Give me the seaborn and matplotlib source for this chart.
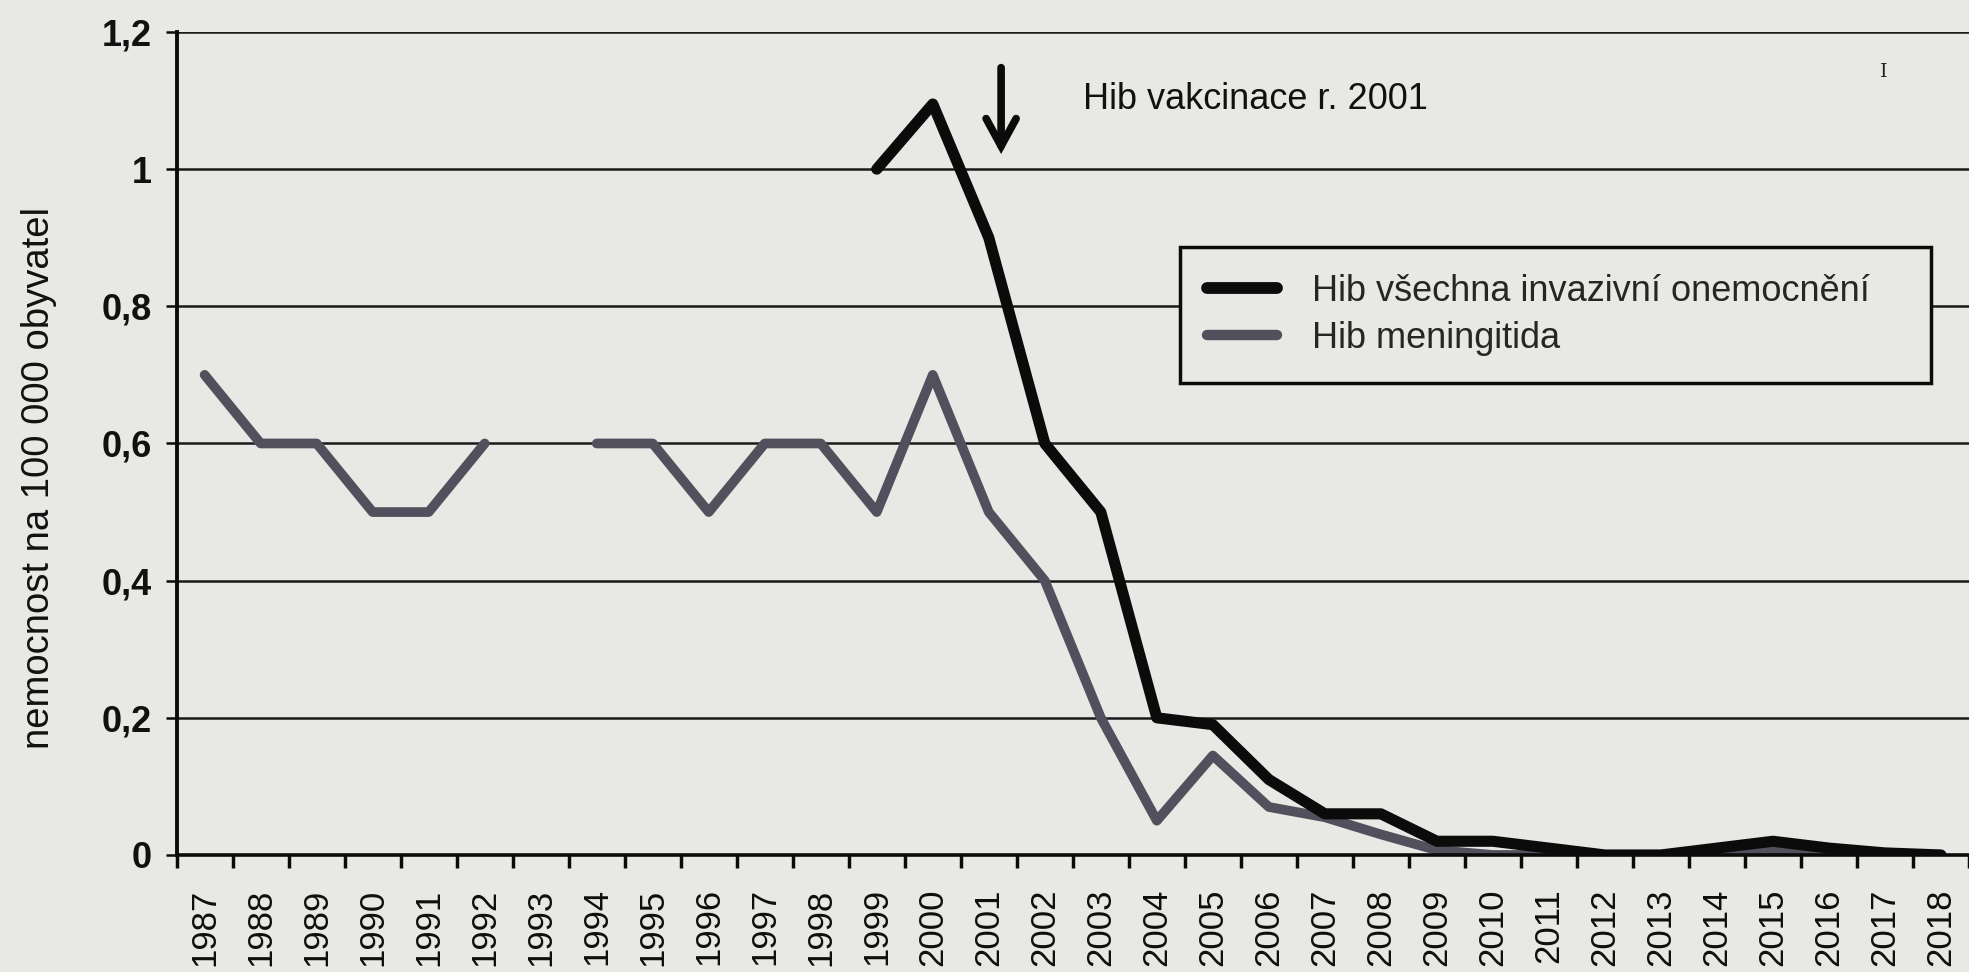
import numpy as np
import pandas as pd
import matplotlib
matplotlib.use("Agg")
import matplotlib.pyplot as plt
import seaborn as sns
from matplotlib.lines import Line2D
from matplotlib.ticker import FixedLocator, FuncFormatter

# ---------------- data ----------------
years = [str(y) for y in range(1987, 2019)]
meningitida = [0.70, 0.60, 0.60, 0.50, 0.50, 0.60, np.nan, 0.60, 0.60, 0.50,
               0.60, 0.60, 0.50, 0.70, 0.50, 0.40, 0.20, 0.05, 0.145, 0.07,
               0.055, 0.03, 0.007, 0.0, 0.0, 0.0, 0.0, 0.002, 0.007, 0.0,
               0.0, 0.0]
vsechna = [np.nan] * 12 + [1.00, 1.095, 0.90, 0.60, 0.50, 0.20, 0.19, 0.11,
                           0.06, 0.06, 0.02, 0.02, 0.01, 0.0, 0.0, 0.01,
                           0.02, 0.01, 0.003, 0.0]
series_names = ["Hib všechna invazivní onemocnění", "Hib meningitida"]
y_ticks = [0, 0.2, 0.4, 0.6, 0.8, 1.0, 1.2]
annotation_text = "Hib vakcinace r. 2001"
y_label = "nemocnost na 100 000 obyvatel"


def to_long(values, name):
    v = np.asarray(values, dtype=float)
    seg = np.cumsum(np.isnan(v))
    df = pd.DataFrame({"pos": np.arange(len(v)), "value": v,
                       "segment": seg, "series": name})
    return df.dropna(subset=["value"])


df_all = to_long(vsechna, series_names[0])
df_men = to_long(meningitida, series_names[1])

# ---------------- style ----------------
BG = "#e8e8e5"
BLACK = "#0b0b0b"
GRAY = "#52505c"

sns.set_theme(style="white")
plt.rcParams["font.family"] = ["Liberation Sans", "DejaVu Sans"]

fig = plt.figure(figsize=(19.69, 9.72), dpi=100, facecolor=BG)
ax = fig.add_axes([0.0897, 0.1204, 0.9103, 0.8467])
ax.set_facecolor(BG)

sns.lineplot(data=df_men, x="pos", y="value", units="segment",
             estimator=None, color=GRAY, linewidth=7.0, legend=False, ax=ax,
             solid_capstyle="round", solid_joinstyle="round")
sns.lineplot(data=df_all, x="pos", y="value", units="segment",
             estimator=None, color=BLACK, linewidth=8.0, legend=False, ax=ax,
             solid_capstyle="round", solid_joinstyle="round")

ax.set_xlim(-0.5, len(years) - 0.5)
ax.set_ylim(0, 1.2)

# x axis: labels at centres, tick marks at boundaries
ax.xaxis.set_major_locator(FixedLocator(np.arange(len(years))))
ax.set_xticklabels(years, rotation=90, fontsize=25, color="#0e0e0e")
ax.xaxis.set_minor_locator(FixedLocator(np.arange(len(years) + 1) - 0.5))
ax.tick_params(axis="x", which="major", length=0, pad=24)
ax.tick_params(axis="x", which="minor", length=9, width=2.5,
               color=BLACK, direction="out", bottom=True)

# y axis
ax.yaxis.set_major_locator(FixedLocator(y_ticks))
ax.yaxis.set_major_formatter(
    FuncFormatter(lambda v, p: ("%g" % round(v, 1)).replace(".", ",")))
ax.tick_params(axis="y", which="major", length=8, width=1.8, color=BLACK,
               direction="out", left=True, pad=10, labelsize=26,
               labelcolor="#111111")
for lbl in ax.get_yticklabels():
    lbl.set_fontweight("bold")

ax.grid(axis="y", color="#1a1a1a", linewidth=1.8)
ax.grid(axis="x", visible=False)
ax.set_axisbelow(True)

for s in ["top", "right"]:
    ax.spines[s].set_visible(False)
ax.spines["left"].set_color(BLACK)
ax.spines["left"].set_linewidth(2.8)
ax.spines["bottom"].set_color(BLACK)
ax.spines["bottom"].set_linewidth(2.6)

ax.set_xlabel("")
ax.set_ylabel(y_label, fontsize=27.5, color="#111111")
ax.yaxis.set_label_coords(-0.067, 0.458)

# annotation arrow and text
ax.annotate("", xy=(14.22, 1.022), xytext=(14.22, 1.148),
            arrowprops=dict(arrowstyle="->,head_length=0.55,head_width=0.3",
                            lw=5.5, color=BLACK, mutation_scale=36,
                            shrinkA=0, shrinkB=0, joinstyle="miter"))
ax.text(15.69, 1.101, annotation_text, fontsize=26, color="#111111",
        ha="left", va="center")
ax.text(29.98, 1.142, "I", fontsize=14, family="DejaVu Serif",
        color="#222222", ha="center", va="center")

# legend
handles = [Line2D([0], [0], color=BLACK, lw=8.5, solid_capstyle="round"),
           Line2D([0], [0], color=GRAY, lw=7.5, solid_capstyle="round")]
leg = ax.legend(handles, series_names, loc="upper left",
                bbox_to_anchor=(0.5598, 0.5688, 0.419, 0.17), mode="expand",
                borderaxespad=0, fontsize=26, frameon=True, fancybox=False,
                handlelength=1.95, handletextpad=0.95, labelspacing=0.32,
                borderpad=0.75)
frame = leg.get_frame()
frame.set_edgecolor(BLACK)
frame.set_linewidth(2.5)
frame.set_facecolor(BG)
frame.set_alpha(1)

fig.savefig("out.png", dpi=100, facecolor=BG)
